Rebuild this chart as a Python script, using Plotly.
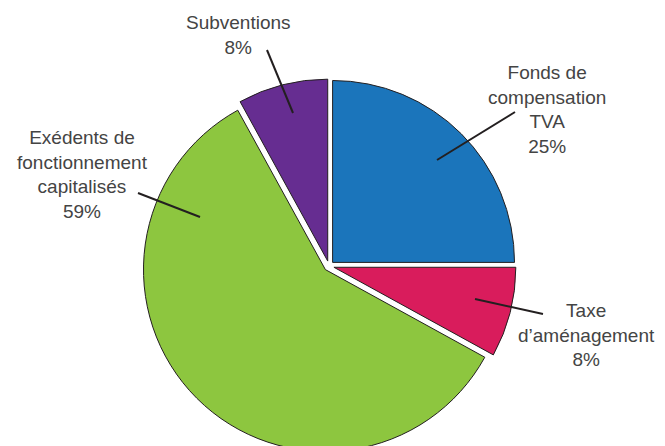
import plotly.graph_objects as go

labels = ["Fonds de compensation TVA", "Taxe d'aménagement",
          "Exédents de fonctionnement capitalisés", "Subventions"]
values = [25, 8, 59, 8]
colors = ["#1b75bb", "#d91c5c", "#8dc63f", "#662d91"]
label_texts = ["Fonds de<br>compensation<br>TVA<br>25%",
               "Taxe<br>d’aménagement<br>8%",
               "Exédents de<br>fonctionnement<br>capitalisés<br>59%",
               "Subventions<br>8%"]

OFF = 8  # page body margin
W, H = 657, 447
ML, MR, MT, MB = 134, 149, 71, 2
PW, PH = W - ML - MR, H - MT - MB

def px(x, y):
    return (x - OFF - ML) / PW, 1 - (y - OFF - MT) / PH

# layout: label text centres and leader lines (reference pixels)
text_pos = [(547, 109), (586, 335), (82, 174), (238, 35)]
leaders = [((437, 160), (515, 112)), ((475, 299), (543, 314)),
           ((200, 217), (138, 193)), ((293, 113), (267, 50))]

fig = go.Figure(go.Pie(
    labels=labels, values=values, sort=False, direction="clockwise",
    rotation=0, pull=[0.028] * 4, textinfo="none", hoverinfo="label+percent",
    marker=dict(colors=colors, line=dict(color="#231f20", width=1)),
    showlegend=False,
))

shapes = []
for (a, b) in leaders:
    x0, y0 = px(*a)
    x1, y1 = px(*b)
    shapes.append(dict(type="line", xref="paper", yref="paper",
                       x0=x0, y0=y0, x1=x1, y1=y1,
                       line=dict(color="#231f20", width=2)))
annotations = []
for t, (x, y) in zip(label_texts, text_pos):
    xx, yy = px(x, y)
    annotations.append(dict(text=t, x=xx, y=yy, xref="paper", yref="paper",
                            showarrow=False, xanchor="center", yanchor="middle",
                            align="center",
                            font=dict(family="Liberation Sans, Arial", size=19,
                                      color="#444444")))

fig.update_layout(width=W, height=H,
                  margin=dict(l=ML, r=MR, t=MT, b=MB),
                  paper_bgcolor="white", plot_bgcolor="white",
                  shapes=shapes, annotations=annotations)
fig.write_html("out.html")
